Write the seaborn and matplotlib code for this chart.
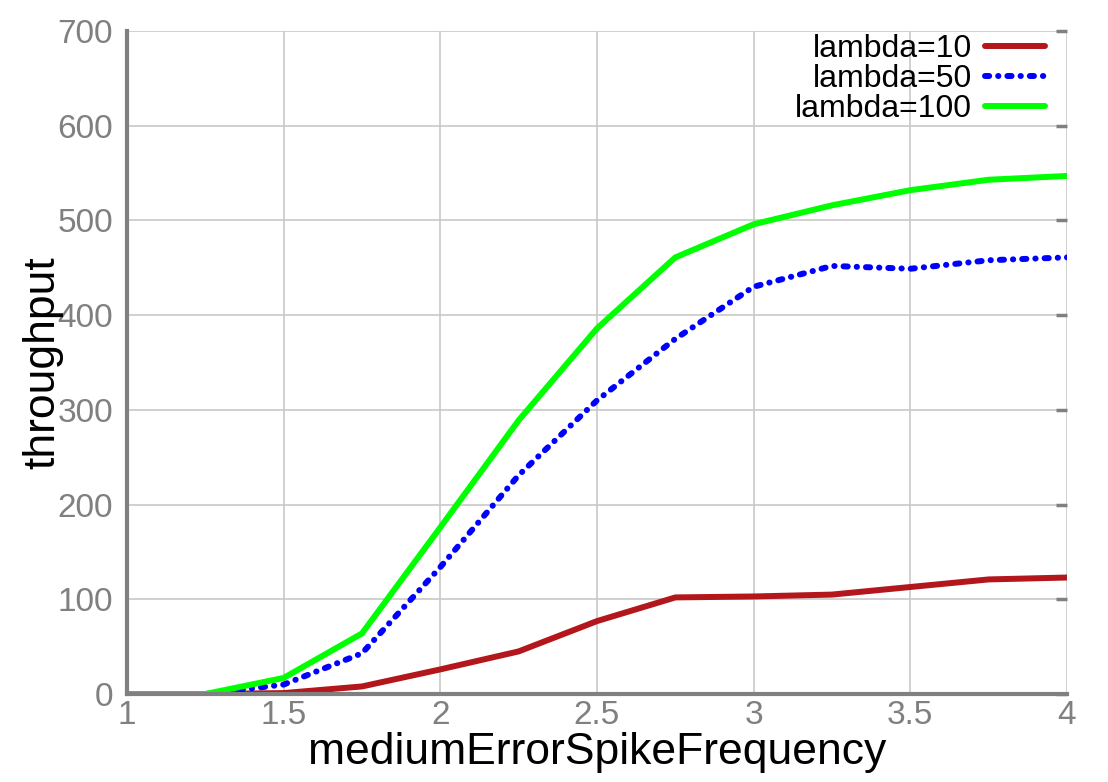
import pandas as pd
import seaborn as sns
import matplotlib.pyplot as plt

freq = [1.0, 1.25, 1.5, 1.75, 2.0, 2.25, 2.5, 2.75, 3.0, 3.25, 3.5, 3.75, 4.0]
lambda10 = [0, 0, 1, 8, 26, 45, 77, 102, 103, 105, 113, 121, 123]
lambda50 = [0, 0, 10, 43, 134, 231, 310, 375, 430, 452, 449, 458, 461]
lambda100 = [0, 0, 17, 64, 176, 289, 386, 461, 496, 516, 532, 543, 547]
series_names = ["lambda=10", "lambda=50", "lambda=100"]

df = pd.DataFrame({"freq": freq * 3,
                   "throughput": lambda10 + lambda50 + lambda100,
                   "series": [n for n in series_names for _ in freq]})

sns.set_style("white")
plt.rcParams["font.family"] = ["Liberation Sans", "DejaVu Sans"]

gray = "#808080"
fig = plt.figure(figsize=(11.08, 7.82), dpi=100)
ax = fig.add_axes([0.1146, 0.1125, 0.8484, 0.8478])

sns.lineplot(data=df, x="freq", y="throughput", hue="series", style="series",
             palette=["#b3161b", "#0000ff", "#00ff00"],
             dashes=["", (0.7, 1.5, 0.05, 1.5), ""],
             linewidth=4.3, ax=ax, legend=True)
for line in ax.lines:
    line.set_solid_capstyle("round")
    line.set_dash_capstyle("round")

ax.set_xlim(1, 4)
ax.set_ylim(0, 700)
ax.set_xticks([1, 1.5, 2, 2.5, 3, 3.5, 4])
ax.set_xticklabels(["1", "1.5", "2", "2.5", "3", "3.5", "4"])
ax.set_yticks(range(0, 701, 100))
ax.grid(True, color="#c8c8c8", linewidth=1.2)
ax.set_axisbelow(True)

for s in ["top", "right"]:
    ax.spines[s].set_visible(False)
for s in ["left", "bottom"]:
    ax.spines[s].set_color(gray)
    ax.spines[s].set_linewidth(3)

ax.tick_params(direction="in", length=8, width=2.5, color=gray,
               labelcolor=gray, labelsize=24, right=True)
ax.tick_params(axis="x", pad=4)
ax.tick_params(axis="y", pad=10)

ax.set_xlabel("mediumErrorSpikeFrequency", fontsize=32, color="black")
ax.set_ylabel("throughput", fontsize=32, color="black")
ax.xaxis.set_label_coords(0.5, -0.058)
ax.yaxis.set_label_coords(-0.068, 0.5)

leg = ax.legend(loc="upper right", bbox_to_anchor=(0.977, 0.995),
                frameon=False, markerfirst=False, fontsize=23,
                handlelength=1.9, handletextpad=0.4, labelspacing=0.0,
                borderaxespad=0, borderpad=0, title=None)
for t in leg.get_texts():
    t.set_color("black")

fig.savefig("out.png", dpi=100)
